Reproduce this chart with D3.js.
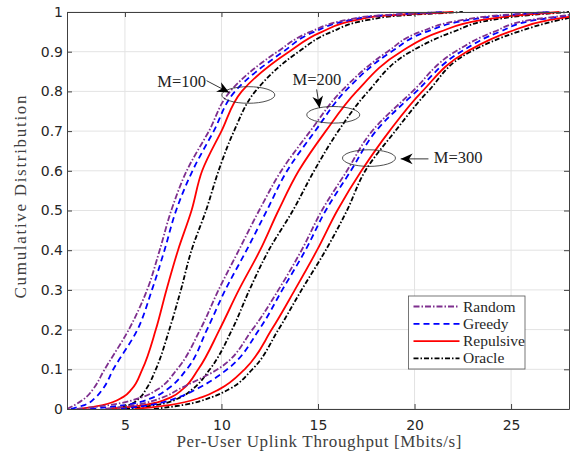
<!DOCTYPE html>
<html><head><meta charset="utf-8">
<script src="https://cdn.jsdelivr.net/npm/d3@7"></script>
<style>body{margin:0;background:#fff}svg{display:block}</style>
</head><body>
<svg id="c" width="570" height="456"></svg>
<script>
// CDF levels at which the throughput of each curve was read
const cdfLevels = [0, 0.01, 0.03, 0.05, 0.1, 0.2, 0.3, 0.4, 0.5, 0.6, 0.7, 0.8, 0.9, 0.95, 0.98, 0.99, 1];
// Throughput [Mbits/s] at each CDF level
const m100Random    = [2.0, 2.4, 3.0, 3.35, 3.95, 5.2, 6.15, 6.8, 7.4, 8.2, 9.35, 10.45, 12.9, 14.6, 16.5, 17.8, 21.5];
const m100Greedy    = [2.2, 2.9, 3.5, 3.85, 4.4, 5.65, 6.4, 7.05, 7.65, 8.5, 9.6, 10.7, 13.2, 14.8, 16.7, 18.0, 21.5];
const m100Repulsive = [2.6, 3.85, 4.9, 5.35, 5.9, 6.6, 7.15, 7.75, 8.45, 9.0, 10.0, 11.05, 13.5, 15.2, 17.0, 18.3, 22.0];
const m100Oracle    = [4.3, 5.2, 5.8, 6.1, 6.6, 7.3, 7.9, 8.45, 9.2, 9.85, 10.65, 11.75, 14.0, 15.7, 17.6, 19.0, 22.5];
const m200Random    = [2.5, 4.2, 5.9, 6.7, 7.7, 8.9, 9.85, 10.9, 11.95, 13.1, 14.6, 16.2, 18.6, 20.3, 22.5, 24.0, 27.0];
const m200Greedy    = [3.2, 5.0, 6.5, 7.2, 8.2, 9.25, 10.2, 11.3, 12.35, 13.4, 14.85, 16.4, 18.8, 20.6, 22.8, 24.3, 27.0];
const m200Repulsive = [4.0, 6.0, 7.4, 8.0, 8.8, 9.9, 10.9, 12.0, 12.95, 14.0, 15.4, 17.0, 19.3, 21.3, 23.5, 25.0, 27.5];
const m200Oracle    = [5.0, 6.6, 7.9, 8.5, 9.4, 10.55, 11.45, 12.45, 13.7, 14.8, 16.05, 17.6, 19.8, 22.0, 24.0, 25.5, 28.0];
const m300Random    = [4.0, 5.5, 7.0, 7.8, 9.8, 11.6, 12.95, 14.15, 15.2, 16.5, 17.8, 19.9, 22.1, 24.1, 26.0, 27.6, 29.0];
const m300Greedy    = [4.8, 6.3, 7.8, 8.7, 10.3, 11.95, 13.15, 14.35, 15.4, 16.7, 18.0, 20.1, 22.4, 24.4, 26.3, 27.8, 29.0];
const m300Repulsive = [5.5, 7.3, 9.0, 9.9, 11.2, 12.6, 13.8, 14.95, 16.0, 17.25, 18.7, 20.4, 22.7, 24.9, 27.0, 28.3, 29.5];
const m300Oracle    = [6.5, 8.0, 9.5, 10.4, 11.6, 12.95, 14.15, 15.4, 16.5, 17.45, 19.0, 20.7, 22.9, 25.35, 27.5, 28.5, 29.5];

const schemes = ["Random", "Greedy", "Repulsive", "Oracle"];
const xTicks = [5, 10, 15, 20, 25];
const yTicks = [0, 0.1, 0.2, 0.3, 0.4, 0.5, 0.6, 0.7, 0.8, 0.9, 1];
const annotations = ["M=100", "M=200", "M=300"];
// annotation anchors in data units: ellipse centres, arrow start/end, label start
const ellipseCenters = [[11.39, 0.791], [15.79, 0.741], [17.64, 0.632]];
const arrowStarts = [[9.23, 0.827], [14.93, 0.805], [20.72, 0.63]];
const arrowEnds = [[10.4, 0.797], [15.08, 0.758], [19.28, 0.63]];
const labelStarts = [[6.68, 0.81], [13.68, 0.815], [21.0, 0.619]];

const curves = [
  {s: "Oracle", v: m100Oracle}, {s: "Repulsive", v: m100Repulsive}, {s: "Greedy", v: m100Greedy}, {s: "Random", v: m100Random},
  {s: "Oracle", v: m200Oracle}, {s: "Repulsive", v: m200Repulsive}, {s: "Greedy", v: m200Greedy}, {s: "Random", v: m200Random},
  {s: "Oracle", v: m300Oracle}, {s: "Repulsive", v: m300Repulsive}, {s: "Greedy", v: m300Greedy}, {s: "Random", v: m300Random}
];
const style = {
  Random:    {color: "#7E2F8E", dash: "6,2,1.5,2"},
  Greedy:    {color: "#0000FF", dash: "6,4"},
  Repulsive: {color: "#FF0000", dash: null},
  Oracle:    {color: "#000000", dash: "5,2,1.5,2"}
};

const L = 67, R = 569, T = 12, B = 409;
const x = d3.scaleLinear().domain([2, 28]).range([L, R]);
const y = d3.scaleLinear().domain([0, 1]).range([B, T]);
const svg = d3.select("#c");

const defs = svg.append("defs");
defs.append("clipPath").attr("id", "clip")
  .append("rect").attr("x", L).attr("y", T - 2).attr("width", R - L).attr("height", B - T + 2);
defs.append("marker").attr("id", "ah").attr("viewBox", "0 0 10 10")
  .attr("refX", 10).attr("refY", 5).attr("markerWidth", 12).attr("markerHeight", 12)
  .attr("markerUnits", "userSpaceOnUse").attr("orient", "auto")
  .append("path").attr("d", "M0,0.5 L10,5 L0,9.5 L3,5 Z").attr("fill", "#000");

// grid
const g = svg.append("g");
g.selectAll(".gx").data(xTicks).enter().append("line")
  .attr("x1", d => x(d)).attr("x2", d => x(d)).attr("y1", T).attr("y2", B)
  .attr("stroke", "#e3e3e3").attr("stroke-width", 1);
g.selectAll(".gy").data(yTicks).enter().append("line")
  .attr("x1", L).attr("x2", R).attr("y1", d => y(d)).attr("y2", d => y(d))
  .attr("stroke", "#e3e3e3").attr("stroke-width", 1);

// curves
const line = d3.line().x(d => x(d[0])).y(d => y(d[1])).curve(d3.curveMonotoneY);
const cg = svg.append("g").attr("clip-path", "url(#clip)");
curves.forEach(c => {
  const pts = c.v.map((v, i) => [v, cdfLevels[i]]);
  cg.append("path").attr("d", line(pts)).attr("fill", "none")
    .attr("stroke", style[c.s].color).attr("stroke-width", 1.8)
    .attr("stroke-dasharray", style[c.s].dash);
});

// axes
const axCol = "#404040";
const ax = svg.append("g");
ax.append("g").attr("transform", `translate(0,${B})`)
  .call(d3.axisBottom(x).tickValues(xTicks).tickSizeInner(-5).tickSizeOuter(0).tickPadding(11));
ax.append("g").attr("transform", `translate(0,${T})`)
  .call(d3.axisTop(x).tickValues(xTicks).tickSizeInner(-5).tickSizeOuter(0).tickFormat(""));
ax.append("g").attr("transform", `translate(${L},0)`)
  .call(d3.axisLeft(y).tickValues(yTicks).tickSizeInner(-5).tickSizeOuter(0).tickPadding(4).tickFormat(d3.format("~g")));
ax.append("g").attr("transform", `translate(${R},0)`)
  .call(d3.axisRight(y).tickValues(yTicks).tickSizeInner(-5).tickSizeOuter(0).tickFormat(""));
ax.selectAll(".domain").attr("stroke", axCol);
ax.selectAll(".tick line").attr("stroke", axCol);
ax.selectAll(".tick text").attr("fill", "#262626").style("font-family", "DejaVu Sans").style("font-size", "14px");

// axis labels
svg.append("text").attr("x", 319).attr("y", 447).attr("text-anchor", "middle")
  .attr("textLength", 285).attr("lengthAdjust", "spacing")
  .style("font-family", "Liberation Serif").style("font-size", "17px").attr("fill", "#404040")
  .text("Per-User Uplink Throughput [Mbits/s]");
svg.append("text").attr("transform", "translate(26,197) rotate(-90)").attr("text-anchor", "middle")
  .attr("textLength", 203).attr("lengthAdjust", "spacing")
  .style("font-family", "Liberation Serif").style("font-size", "17px").attr("fill", "#404040")
  .text("Cumulative Distribution");

// annotations
const an = svg.append("g");
ellipseCenters.forEach(e => an.append("ellipse").attr("cx", x(e[0])).attr("cy", y(e[1]))
  .attr("rx", 26.5).attr("ry", 8.3).attr("fill", "none").attr("stroke", "#222").attr("stroke-width", 0.8));
arrowStarts.forEach((a, i) => an.append("line").attr("x1", x(a[0])).attr("y1", y(a[1]))
  .attr("x2", x(arrowEnds[i][0])).attr("y2", y(arrowEnds[i][1])).attr("stroke", "#000").attr("stroke-width", 0.8)
  .attr("marker-end", "url(#ah)"));
annotations.forEach((t, i) => an.append("text").attr("x", x(labelStarts[i][0])).attr("y", y(labelStarts[i][1]))
  .style("font-family", "Liberation Serif").style("font-size", "16.5px").attr("fill", "#222").text(t));

// legend
const lg = svg.append("g").attr("transform", "translate(408.5,296)");
lg.append("rect").attr("width", 116.5).attr("height", 73).attr("fill", "#fff").attr("stroke", "#555").attr("stroke-width", 0.8);
schemes.forEach((s, i) => {
  const yy = 10.5 + i * 17.3;
  lg.append("line").attr("x1", 5).attr("x2", 51).attr("y1", yy).attr("y2", yy)
    .attr("stroke", style[s].color).attr("stroke-width", 1.8).attr("stroke-dasharray", style[s].dash);
  lg.append("text").attr("x", 54.5).attr("y", yy + 5)
    .style("font-family", "Liberation Serif").style("font-size", "15.5px").attr("fill", "#262626").text(s);
});
</script>
</body></html>
